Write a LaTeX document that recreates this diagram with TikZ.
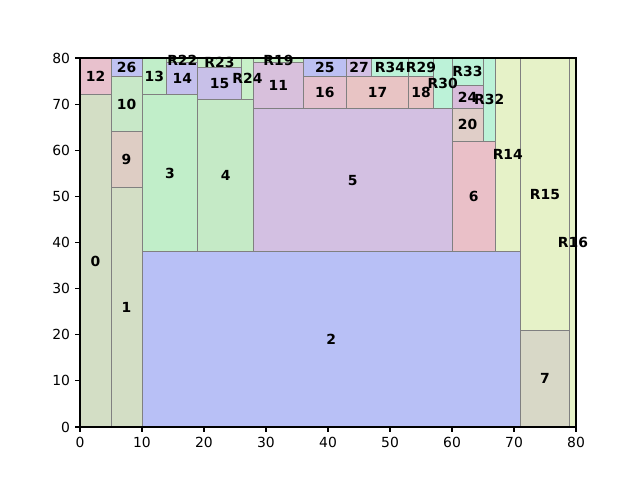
\documentclass[tikz,border=0pt]{standalone}
\usepackage{fontspec}
\setmainfont{DejaVu Sans}
\definecolor{cA}{RGB}{211,222,197}
\definecolor{cB}{RGB}{184,192,246}
\definecolor{cC}{RGB}{193,238,201}
\definecolor{cD}{RGB}{197,234,198}
\definecolor{cE}{RGB}{211,192,226}
\definecolor{cF}{RGB}{234,192,200}
\definecolor{cG}{RGB}{216,216,199}
\definecolor{cH}{RGB}{222,205,196}
\definecolor{cI}{RGB}{200,232,200}
\definecolor{cJ}{RGB}{216,192,220}
\definecolor{cK}{RGB}{232,193,205}
\definecolor{cL}{RGB}{196,192,237}
\definecolor{cM}{RGB}{200,192,232}
\definecolor{cN}{RGB}{228,193,206}
\definecolor{cO}{RGB}{232,196,196}
\definecolor{cP}{RGB}{224,206,200}
\definecolor{cQ}{RGB}{216,188,218}
\definecolor{cR}{RGB}{188,192,242}
\definecolor{cS}{RGB}{192,194,242}
\definecolor{cT}{RGB}{210,192,228}
\definecolor{mint}{RGB}{188,242,216}
\definecolor{lyel}{RGB}{230,242,200}
\definecolor{lgrn}{RGB}{200,240,200}
\definecolor{edge}{RGB}{128,128,128}
\tikzset{
  blk/.style={draw=edge, line width=1pt},
  lab/.style={font=\fontsize{13.9}{16}\selectfont\bfseries, inner sep=0pt},
  tick/.style={font=\fontsize{13.9}{16}\selectfont, inner sep=0pt},
}
\begin{document}
\begin{tikzpicture}[x=1pt,y=1pt]
\useasboundingbox (0,0) rectangle (640,480);
\begin{scope}[shift={(80,53)}, x=6.2pt, y=4.6125pt]
% rectangles
\draw[blk, fill=cA] (0,0) rectangle (5,72);
\draw[blk, fill=cA] (5,0) rectangle (10,52);
\draw[blk, fill=cH] (5,52) rectangle (10,64);
\draw[blk, fill=cI] (5,64) rectangle (10,76);
\draw[blk, fill=cS] (5,76) rectangle (10,80);
\draw[blk, fill=cK] (0,72) rectangle (5,80);
\draw[blk, fill=cB] (10,0) rectangle (71,38);
\draw[blk, fill=cC] (10,38) rectangle (19,72);
\draw[blk, fill=cC] (10,72) rectangle (14,80);
\draw[blk, fill=cL] (14,72) rectangle (19,79);
\draw[blk, fill=lgrn] (14,79) rectangle (19,80);
\draw[blk, fill=cD] (19,38) rectangle (28,71);
\draw[blk, fill=cM] (19,71) rectangle (26,78);
\draw[blk, fill=lgrn] (19,78) rectangle (26,80);
\draw[blk, fill=lgrn] (26,71) rectangle (28,80);
\draw[blk, fill=cJ] (28,69) rectangle (36,79);
\draw[blk, fill=lgrn] (28,79) rectangle (36,80);
\draw[blk, fill=cE] (28,38) rectangle (60,69);
\draw[blk, fill=cR] (36,76) rectangle (43,80);
\draw[blk, fill=cN] (36,69) rectangle (43,76);
\draw[blk, fill=cT] (43,76) rectangle (47,80);
\draw[blk, fill=cO] (43,69) rectangle (53,76);
\draw[blk, fill=mint] (47,76) rectangle (53,80);
\draw[blk, fill=mint] (53,76) rectangle (57,80);
\draw[blk, fill=cO] (53,69) rectangle (57,76);
\draw[blk, fill=mint] (57,69) rectangle (60,80);
\draw[blk, fill=cQ] (60,69) rectangle (65,74);
\draw[blk, fill=mint] (60,74) rectangle (65,80);
\draw[blk, fill=cP] (60,62) rectangle (65,69);
\draw[blk, fill=mint] (65,62) rectangle (67,80);
\draw[blk, fill=cF] (60,38) rectangle (67,62);
\draw[blk, fill=lyel] (67,38) rectangle (71,80);
\draw[blk, fill=lyel] (71,21) rectangle (79,80);
\draw[blk, fill=cG] (71,0) rectangle (79,21);
\draw[blk, fill=lyel] (79,0) rectangle (80,80);
% labels
\node[lab] (n0) at (2.5,36) {0};
\node[lab] (n1) at (7.5,26) {1};
\node[lab] (n9) at (7.5,58) {9};
\node[lab] (n10) at (7.5,70) {10};
\node[lab] (n26) at (7.5,78) {26};
\node[lab] (n12) at (2.5,76) {12};
\node[lab] (n2) at (40.5,19) {2};
\node[lab] (n3) at (14.5,55) {3};
\node[lab] (n13) at (12,76) {13};
\node[lab] (n14) at (16.5,75.5) {14};
\node[lab] (r22) at (16.5,79.5) {R22};
\node[lab] (n4) at (23.5,54.5) {4};
\node[lab] (n15) at (22.5,74.5) {15};
\node[lab] (r23) at (22.5,79) {R23};
\node[lab] (r24) at (27,75.5) {R24};
\node[lab] (n11) at (32,74) {11};
\node[lab] (r19) at (32,79.5) {R19};
\node[lab] (n5) at (44,53.5) {5};
\node[lab] (n25) at (39.5,78) {25};
\node[lab] (n16) at (39.5,72.5) {16};
\node[lab] (n27) at (45,78) {27};
\node[lab] (n17) at (48,72.5) {17};
\node[lab] (r34) at (50,78) {R34};
\node[lab] (r29) at (55,78) {R29};
\node[lab] (n18) at (55,72.5) {18};
\node[lab] (r30) at (58.5,74.5) {R30};
\node[lab] (n24) at (62.5,71.5) {24};
\node[lab] (r33) at (62.5,77) {R33};
\node[lab] (n20) at (62.5,65.5) {20};
\node[lab] (r32) at (66,71) {R32};
\node[lab] (n6) at (63.5,50) {6};
\node[lab] (r14) at (69,59) {R14};
\node[lab] (r15) at (75,50.5) {R15};
\node[lab] (n7) at (75,10.5) {7};
\node[lab] (r16) at (79.5,40) {R16};
% axes frame
\draw[line width=1.1pt] (0,0) rectangle (80,80);
\foreach \v in {0,10,...,80}{
  \draw[line width=1.1pt] (\v,0) -- ++(0,-4.9pt);
  \node[tick, anchor=north] at ([yshift=-9.8pt]\v,0) {\v};
  \draw[line width=1.1pt] (0,\v) -- ++(-4.9pt,0);
  \node[tick, anchor=east] at ([xshift=-9.8pt]0,\v) {\v};
}
\end{scope}
\end{tikzpicture}
\end{document}
